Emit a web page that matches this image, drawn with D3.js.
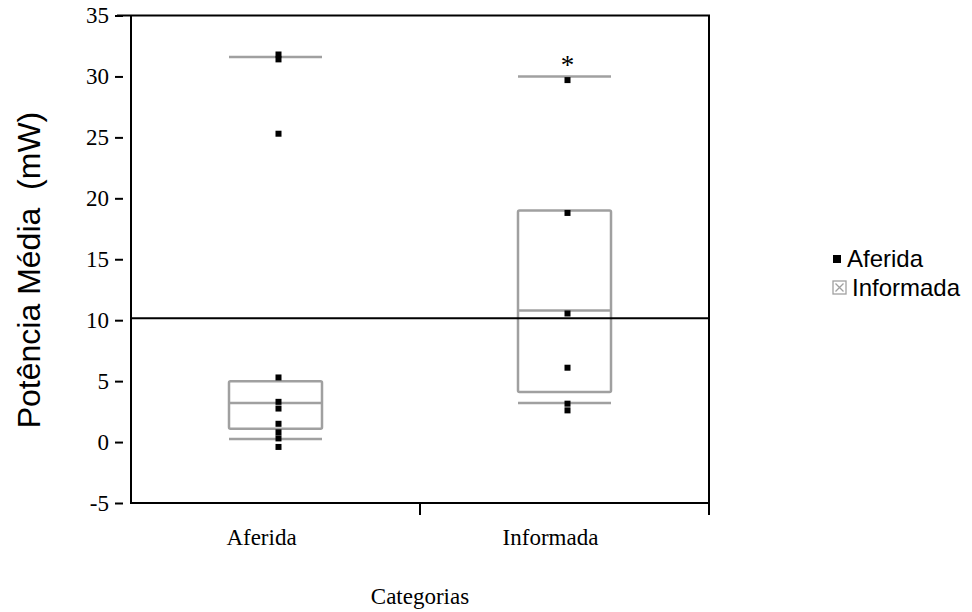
<!DOCTYPE html>
<html>
<head>
<meta charset="utf-8">
<script src="https://cdn.jsdelivr.net/npm/d3@7"></script>
<style>
  body { margin: 0; background: #fff; }
  svg { display: block; }
</style>
</head>
<body>
<div class="containers"></div>
<script>
const categories = ['Aferida', 'Informada']
// pontos medidos (mW)
const aferidaPoints = [31.8, 31.4, 25.3, 5.3, 3.3, 2.75, 1.5, 0.8, 0.3, -0.4]
const informadaPoints = [29.7, 18.8, 10.55, 6.1, 3.15, 2.6]
// estatísticas das caixas: min, q1, mediana, q3, max
const boxLow = [0.25, 3.2]
const boxQ1 = [1.1, 4.1]
const boxMedian = [3.2, 10.8]
const boxQ3 = [5.0, 19.0]
const boxHigh = [31.6, 30.0]
const outliers = [{ cat: 'Informada', value: 31.4 }]
const refLine = 10.15
const yTicks = [-5, 0, 5, 10, 15, 20, 25, 30, 35]

const width = 972
const height = 612
const gray = '#a0a0a0'
const serif = '"Liberation Serif", "Times New Roman", serif'
const sans = '"Liberation Sans", Arial, sans-serif'

const x = d3.scaleBand().domain(categories).range([131, 709])
const y = d3.scaleLinear().domain([-5, 35]).range([503, 15.5])
const boxHalf = 46.5
const ptOff = 3

const svg = d3.select('.containers')
  .append('svg')
  .attr('width', width)
  .attr('height', height)
  .attr('viewBox', [0, 0, width, height])

const cx = c => x(c) + x.bandwidth() / 2

// eixo y (ticks afastados da linha)
svg.append('g')
  .attr('transform', 'translate(123,0)')
  .call(d3.axisLeft(y).tickValues(yTicks).tickSize(8).tickPadding(6).tickFormat(d => String(d)))
  .call(g => g.select('.domain').remove())
  .call(g => g.selectAll('line').attr('stroke', '#000').attr('stroke-width', 2))
  .call(g => g.selectAll('text')
    .attr('font-family', serif)
    .attr('font-size', 23)
    .attr('fill', '#000'))

// moldura
const frame = svg.append('g').attr('stroke', '#000').attr('stroke-width', 2).attr('fill', 'none')
frame.append('path').attr('d', `M117,${y(35)}H709V515`)
frame.append('path').attr('d', `M131,${y(35)}V${y(-5)}H709`)
frame.append('path').attr('d', `M420,${y(-5)}V515`)

// caixas
const boxes = svg.append('g').attr('stroke', gray).attr('stroke-width', 2.5).attr('fill', 'none')
categories.forEach((c, i) => {
  const m = cx(c)
  boxes.append('rect')
    .attr('x', m - boxHalf)
    .attr('y', y(boxQ3[i]))
    .attr('width', boxHalf * 2)
    .attr('height', y(boxQ1[i]) - y(boxQ3[i]))
    .attr('rx', 1.5)
  ;[boxMedian[i], boxLow[i], boxHigh[i]].forEach(v => {
    boxes.append('line')
      .attr('x1', m - boxHalf).attr('x2', m + boxHalf)
      .attr('y1', y(v)).attr('y2', y(v))
  })
})

// linha de referência
svg.append('line')
  .attr('x1', 131).attr('x2', 709)
  .attr('y1', y(refLine)).attr('y2', y(refLine))
  .attr('stroke', '#000').attr('stroke-width', 2)

// pontos
const pts = [
  ...aferidaPoints.map(v => ({ cat: 'Aferida', value: v })),
  ...informadaPoints.map(v => ({ cat: 'Informada', value: v }))
]
svg.append('g')
  .selectAll('rect')
  .data(pts)
  .join('rect')
  .attr('x', d => cx(d.cat) + ptOff - 3)
  .attr('y', d => y(d.value) - 3)
  .attr('width', 6)
  .attr('height', 6)
  .attr('fill', '#000')

// outlier *
svg.append('g')
  .selectAll('text')
  .data(outliers)
  .join('text')
  .attr('x', d => cx(d.cat) + ptOff)
  .attr('y', d => y(d.value) + 15)
  .attr('text-anchor', 'middle')
  .attr('font-family', serif)
  .attr('font-size', 27)
  .text('*')

// rótulos das categorias
svg.append('g')
  .selectAll('text')
  .data(categories)
  .join('text')
  .attr('x', d => cx(d) - 14)
  .attr('y', 545)
  .attr('text-anchor', 'middle')
  .attr('font-family', serif)
  .attr('font-size', 23)
  .text(d => d)

svg.append('text')
  .attr('x', 420)
  .attr('y', 604)
  .attr('text-anchor', 'middle')
  .attr('font-family', serif)
  .attr('font-size', 23)
  .text('Categorias')

svg.append('text')
  .attr('transform', 'translate(40,270) rotate(-90)')
  .attr('text-anchor', 'middle')
  .attr('font-family', sans)
  .attr('font-size', 32)
  .attr('xml:space', 'preserve')
  .style('white-space', 'pre')
  .text('Potência Média  (mW)')

// legenda
const legend = svg.append('g').attr('font-family', sans).attr('font-size', 24)
legend.append('rect').attr('x', 833).attr('y', 255).attr('width', 8).attr('height', 8).attr('fill', '#000')
legend.append('text').attr('x', 847).attr('y', 267).text(categories[0])
const icon = legend.append('g').attr('stroke', gray).attr('stroke-width', 1.3).attr('fill', 'none')
icon.append('rect').attr('x', 833).attr('y', 281).attr('width', 13).attr('height', 13)
icon.append('path').attr('d', 'M835.5,283.5L843.5,291.5M843.5,283.5L835.5,291.5')
legend.append('text').attr('x', 852).attr('y', 296).text(categories[1])
</script>
</body>
</html>
